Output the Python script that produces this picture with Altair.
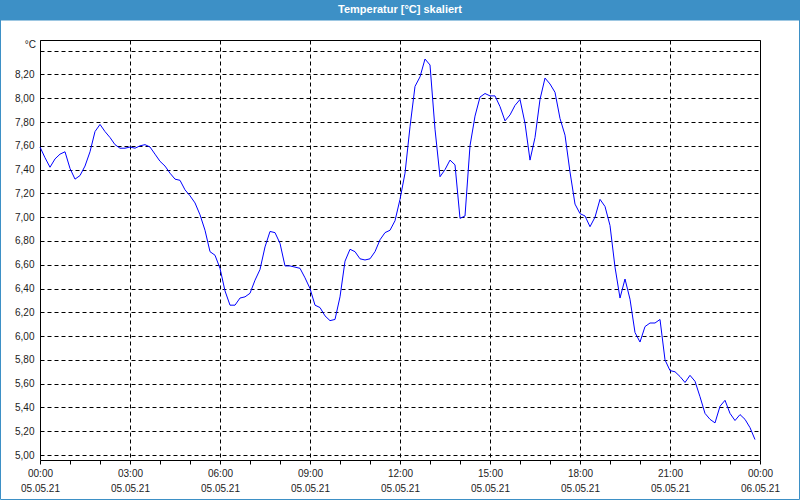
import json
import altair as alt
import pandas as pd

# ---- data ----
minutes = list(range(0, 1440, 10))  # 10-minute samples, 00:00 .. 23:50
temps = [
    7.59, 7.50, 7.42, 7.49, 7.53, 7.55, 7.41, 7.32, 7.35, 7.43,
    7.55, 7.72, 7.78, 7.72, 7.67, 7.61, 7.58, 7.58, 7.59, 7.58,
    7.60, 7.61, 7.59, 7.53, 7.47, 7.43, 7.37, 7.32, 7.31, 7.23,
    7.18, 7.12, 7.02, 6.89, 6.71, 6.68, 6.57, 6.38, 6.26, 6.26,
    6.32, 6.33, 6.36, 6.47, 6.56, 6.75, 6.88, 6.87, 6.78, 6.59,
    6.59, 6.58, 6.57, 6.49, 6.40, 6.26, 6.24, 6.17, 6.13, 6.14,
    6.33, 6.63, 6.73, 6.71, 6.65, 6.64, 6.65, 6.71, 6.81, 6.87,
    6.89, 6.97, 7.15, 7.37, 7.76, 8.10, 8.18, 8.33, 8.28, 7.74,
    7.34, 7.40, 7.48, 7.44, 6.99, 7.01, 7.60, 7.85, 8.01, 8.04,
    8.02, 8.02, 7.93, 7.81, 7.86, 7.94, 7.99, 7.79, 7.48, 7.67,
    7.99, 8.17, 8.12, 8.05, 7.83, 7.69, 7.38, 7.11, 7.03, 7.01,
    6.92, 7.00, 7.15, 7.09, 6.93, 6.58, 6.32, 6.48, 6.31, 6.03,
    5.95, 6.08, 6.11, 6.11, 6.14, 5.80, 5.71, 5.70, 5.66, 5.61,
    5.67, 5.62, 5.49, 5.35, 5.30, 5.27, 5.41, 5.46, 5.35, 5.29,
    5.34, 5.30, 5.23, 5.13,
]

x_domain = [0, 1440]
x_tick_minutes = list(range(0, 1441, 60))
time_labels = ["00:00", "03:00", "06:00", "09:00", "12:00", "15:00", "18:00", "21:00", "00:00"]
date_labels = ["05.05.21"] * 8 + ["06.05.21"]

y_domain = [4.958, 8.49]
y_ticks = [5.0, 5.2, 5.4, 5.6, 5.8, 6.0, 6.2, 6.4, 6.6, 6.8, 7.0, 7.2, 7.4, 7.6, 7.8, 8.0, 8.2, 8.4]

title_text = "Temperatur [°C] skaliert"
unit_text = "°C"

# ---- styling ----
W, H = 720, 420
PAD = 40
FONT = "Liberation Sans"
TXT = "#1c1c1c"
BAR = "#3d90c6"

df = pd.DataFrame({"t": minutes, "v": temps})

x_label_expr = (
    "datum.value % 180 === 0 ? ["
    + json.dumps(time_labels) + "[datum.value / 180], "
    + json.dumps(date_labels) + "[datum.value / 180]] : ''"
)
y_label_expr = "datum.value > 8.3 ? '' : replace(format(datum.value, '.2f'), '.', ',')"

x_enc = alt.X(
    "t:Q",
    scale=alt.Scale(domain=x_domain, nice=False, zero=False),
    axis=alt.Axis(
        title=None,
        values=x_tick_minutes,
        labelExpr=x_label_expr,
        labelLineHeight=15,
        labelPadding=4,
        labelFont=FONT,
        labelFontSize=10,
        labelColor=TXT,
        tickSize=4,
        tickColor="black",
        domain=False,
        grid=True,
        gridColor="black",
        gridDash=[4, 3],
        gridOpacity={"condition": {"test": "datum.value % 180 === 0", "value": 1}, "value": 0},
        labelOverlap=False,
        labelFlush=False,
    ),
)
y_enc = alt.Y(
    "v:Q",
    scale=alt.Scale(domain=y_domain, nice=False, zero=False),
    axis=alt.Axis(
        title=None,
        values=y_ticks,
        labelExpr=y_label_expr,
        labelPadding=6,
        labelFont=FONT,
        labelFontSize=10,
        labelColor=TXT,
        ticks=False,
        domain=False,
        grid=True,
        gridColor="black",
        gridDash=[4, 3],
        labelOverlap=False,
        labelFlush=False,
    ),
)

line = alt.Chart(df).mark_line(color="#0000ff", strokeWidth=1).encode(x=x_enc, y=y_enc)

one = pd.DataFrame({"title": [title_text], "unit": [unit_text]})

bar = alt.Chart(one).mark_rect(color=BAR).encode(
    x=alt.value(-PAD), x2=alt.value(W + PAD), y=alt.value(-PAD), y2=alt.value(-19.5)
)
frame = alt.Chart(one).mark_rect(filled=False, stroke=BAR, strokeWidth=1).encode(
    x=alt.value(-PAD + 0.5), x2=alt.value(W + PAD - 0.5), y=alt.value(-PAD + 0.5), y2=alt.value(H + PAD - 0.5)
)
title = alt.Chart(one).mark_text(
    color="white", font=FONT, fontSize=11, fontWeight="bold", align="center", baseline="middle"
).encode(text="title:N", x=alt.value(W / 2), y=alt.value(-30))
unit = alt.Chart(one).mark_text(
    color=TXT, font=FONT, fontSize=10, align="right", baseline="middle"
).encode(text="unit:N", x=alt.value(-4), y=alt.value(5))

chart = (
    alt.layer(bar, frame, line, title, unit)
    .properties(
        width=W,
        height=H,
        padding={"left": PAD, "top": PAD, "right": PAD, "bottom": PAD},
        autosize=alt.AutoSizeParams(type="none"),
        background="white",
    )
    .configure_view(stroke="black", strokeWidth=1)
)

chart.save("out.html", embed_options={"renderer": "svg", "actions": False})
